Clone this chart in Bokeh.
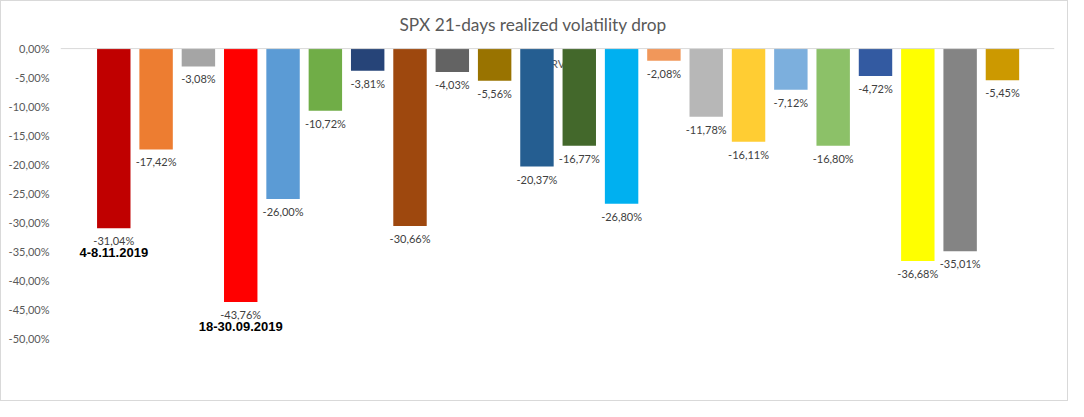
from bokeh.plotting import figure
from bokeh.models import ColumnDataSource, Range1d, FixedTicker, Span
from bokeh.core.properties import value
from bokeh.embed import file_html
from bokeh.resources import INLINE

# ---- data ----
values = [-31.04, -17.42, -3.08, -43.76, -26.00, -10.72, -3.81, -30.66, -4.03, -5.56,
          -20.37, -16.77, -26.80, -2.08, -11.78, -16.11, -7.12, -16.80, -4.72, -36.68,
          -35.01, -5.45]
colors = ["#C00000", "#ED7D31", "#A5A5A5", "#FF0000", "#5B9BD5", "#70AD47", "#264478",
          "#9E480E", "#636363", "#997300", "#255E91", "#43682B", "#00B0F0", "#F1975A",
          "#B7B7B7", "#FFCD33", "#7CAFDD", "#8CC168", "#335AA1", "#FFFF00", "#848484",
          "#CC9900"]
y_ticks = [0, -5, -10, -15, -20, -25, -30, -35, -40, -45, -50]
annot_index = [0, 3]
annot_text = ["4-8.11.2019", "18-30.09.2019"]
title_text = "SPX 21-days realized volatility drop"
series_name = "RV"

def pct(v):
    return ("%.2f%%" % v).replace(".", ",")

xs = list(range(len(values)))
src = ColumnDataSource(dict(x=xs, top=[0] * len(values), bottom=values,
                            color=colors, label=[pct(v) for v in values]))

p = figure(width=1068, height=401, output_backend="svg", toolbar_location=None,
           x_range=Range1d(-1.259, 22.23), y_range=Range1d(-55.09, 0.535),
           min_border_left=59, min_border_right=15, min_border_top=44,
           min_border_bottom=35, title=title_text)
p.title.align = "left"
p.title.offset = 339
p.title.standoff = 21
p.title.text_font = "Lato"
p.title.text_font_style = "normal"
p.title.text_font_size = "17.3px"
p.title.text_color = "#595959"
p.outline_line_color = None
p.xaxis.visible = False
p.xgrid.visible = False
p.ygrid.visible = False
p.yaxis.ticker = FixedTicker(ticks=y_ticks)
p.yaxis.major_label_overrides = {t: pct(t) for t in y_ticks}
p.yaxis.axis_line_color = None
p.yaxis.major_tick_line_color = None
p.yaxis.major_tick_out = 0
p.yaxis.major_tick_in = 0
p.yaxis.minor_tick_line_color = None
p.yaxis.minor_tick_out = 0
p.yaxis.major_label_standoff = 11
p.yaxis.major_label_text_font = "Lato"
p.yaxis.major_label_text_font_size = "11px"
p.yaxis.major_label_text_color = "#595959"

# faint series name behind bars
p.text(x=[10.5], y=[-2.49], text=[series_name], text_font=value("Lato"),
       text_font_size="11px", text_color="#595959", text_align="center",
       text_baseline="middle")

p.add_layout(Span(location=0, dimension="width", line_color="#D9D9D9", line_width=1))

p.vbar(x="x", top="top", bottom="bottom", width=0.79, color="color", line_color=None,
       source=src)
p.text(x="x", y="bottom", text="label", source=src, text_font=value("Lato"),
       text_font_size="11px", text_color="#404040", text_align="center",
       text_baseline="top", y_offset=6)

p.text(x=annot_index, y=[values[i] for i in annot_index], text=annot_text,
       text_font=value("Liberation Sans"), text_font_style="bold",
       text_font_size="13px", text_color="#000000", text_align="center",
       text_baseline="top", y_offset=20)

p.styles = {"border": "1px solid #D9D9D9"}

open("out.html", "w").write(file_html(p, INLINE))
